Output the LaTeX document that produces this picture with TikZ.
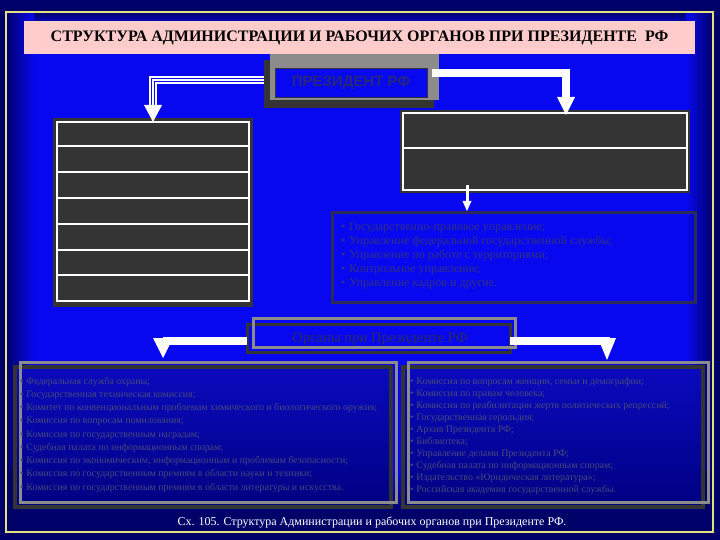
\documentclass[tikz,border=0pt]{standalone}
\usepackage{fontspec}
\setmainfont{Liberation Serif}
\newfontfamily\sansf{Liberation Sans}
\usetikzlibrary{calc}
\definecolor{navy}{RGB}{0,0,105}
\definecolor{bblue}{RGB}{8,8,240}
\definecolor{lboxt}{RGB}{10,10,190}
\definecolor{lboxb}{RGB}{0,0,130}
\definecolor{dk}{RGB}{52,52,52}
\definecolor{gr}{RGB}{140,140,140}
\definecolor{pinkb}{RGB}{255,204,204}
\definecolor{txtm}{RGB}{48,48,128}
\definecolor{txtl}{RGB}{72,72,125}
\definecolor{frm}{RGB}{225,225,130}
\definecolor{prest}{RGB}{38,38,125}
\begin{document}
\begin{tikzpicture}[x=1pt,y=-1pt,
  plain/.style={inner sep=0pt, outer sep=0pt},
  tabbox/.style={plain, draw=white, line width=1.5pt},
  listtxt/.style={plain, anchor=base west, font=\fontsize{9.9}{11}\selectfont, text=txtl},
  midtxt/.style={plain, anchor=base west, font=\fontsize{12}{13}\selectfont, text=txtm},
  wbar/.style={draw=white, line width=8pt},
  whead/.style={fill=white}]
\useasboundingbox (0,0) rectangle (720,540);
% background
\fill[navy] (0,0) rectangle (720,540);
\fill[bblue] (6,12) rectangle (713,532);
\shade[top color=navy, bottom color=bblue] (6,12) rectangle (713,28);
\shade[top color=bblue, bottom color=navy] (6,470) rectangle (713,512);
\shade[left color=navy, right color=bblue] (6,12) rectangle (34,470);
\shade[left color=bblue, right color=navy] (686,12) rectangle (713,470);
\fill[navy] (6,470) rectangle (20,532);
\fill[navy] (700,470) rectangle (713,532);
\fill[navy] (6,512) rectangle (713,532);
\draw[frm, line width=2pt] (6,12) rectangle (713,532);

% title
\node[plain, fill=pinkb, minimum width=671pt, minimum height=33pt] (title) at (359.5,37.5)
  {\fontsize{16}{18}\selectfont\bfseries СТРУКТУРА АДМИНИСТРАЦИИ И РАБОЧИХ ОРГАНОВ ПРИ ПРЕЗИДЕНТЕ~ РФ};

% president
\fill[dk] (264,60) rectangle (434,108);
\fill[gr] (270,54) rectangle (439,100);
\node[plain, fill=bblue, draw=dk, line width=0.8pt, minimum width=152pt, minimum height=29pt] (pres) at (351,82.5)
  {\sansf\bfseries\fontsize{15}{17}\selectfont\color{prest}ПРЕЗИДЕНТ РФ};

% left table
\fill[dk] (53,118) rectangle (253,307);
\node[tabbox, fill=dk, minimum width=192pt, minimum height=179pt] (tabL) at (153,211.5) {};
\foreach \yy in {146,172,198,224,250,275}
  \draw[white, line width=1.5pt] (tabL.west |- 0,\yy) -- (tabL.east |- 0,\yy);

% right table
\fill[dk] (400,110) rectangle (690,193);
\node[tabbox, fill=dk, minimum width=284pt, minimum height=77pt] (tabR) at (545,151.5) {};
\draw[white, line width=1.5pt] (tabR.west |- 0,148) -- (tabR.east |- 0,148);

% middle list
\node[plain, draw=dk!80!bblue, line width=3pt, minimum width=363pt, minimum height=89pt] (mlist) at (513.5,257.5) {};
\foreach \t [count=\i] in {{Государственно-правовое управление;},
  {Управление федеральной государственной службы;},
  {Управление по работе с территориями;},
  {Контрольное управление;},
  {Управление кадров и другие.}}
  \node[midtxt] (m\i) at (341,215.8+14.2*\i) {•\hspace{4pt}\t};

% organs box
\node[plain, draw=dk, line width=3pt, minimum width=263pt, minimum height=28pt] (org) at (378.5,338) {};
\draw[gr, line width=3pt] (253,318) rectangle (515,347);
\node[plain, text=dk!80!bblue] (orgt) at (380,339) {\fontsize{14.7}{16}\selectfont Органы при Президенте РФ};

% bottom list boxes
\shade[top color=lboxt, bottom color=lboxb, draw=dk, line width=4pt] (15,367) rectangle (391,507);
\node[plain, draw=gr, line width=3pt, minimum width=376pt, minimum height=140pt] (listL) at (208,432) {};
\shade[top color=lboxt, bottom color=lboxb, draw=dk, line width=4pt] (403,367) rectangle (703,507);
\node[plain, draw=gr, line width=3pt, minimum width=300pt, minimum height=140pt] (listR) at (558,432) {};

\foreach \t [count=\i] in {{Федеральная служба охраны;},
  {Государственная техническая комиссия;},
  {Комитет по конвенциональным проблемам химического и биологического оружия;},
  {Комиссия по вопросам помилования;},
  {Комиссия по государственным наградам;},
  {Судебная палата по информационным спорам;},
  {Комиссия по экономическим, информационным и проблемам безопасности;},
  {Комиссия по государственным премиям в области науки и техники;},
  {Комиссия по государственным премиям в области литературы и искусства.}}
  \node[listtxt] (l\i) at (20,370.95+13.25*\i) {•\hspace{3pt}\t};

\foreach \t [count=\i] in {{Комиссия по вопросам женщин, семьи и демографии;},
  {Комиссия по правам человека;},
  {Комиссия по реабилитации жертв политических репрессий;},
  {Государственная герольдия;},
  {Архив Президента РФ;},
  {Библиотека;},
  {Управление делами Президента РФ;},
  {Судебная палата по информационным спорам;},
  {Издательство «Юридическая литература»;},
  {Российская академия государственной службы.}}
  \node[listtxt] (r\i) at (410,372.2+12*\i) {•\hspace{3pt}\t};

% caption
\node[plain, text=white] (cap) at (372,522) {\fontsize{12}{13}\selectfont Сх. 105. Структура Администрации и рабочих органов при Президенте РФ.};

% arrow: president -> left table (triple line)
\path (pres.west) ++(-11,-2.5) coordinate (ls);
\coordinate (lt) at (tabL.north);
\coordinate (lc) at ($(lt)+(0,-16)$);
\draw[white, line width=8pt] (ls) -| (lc);
\draw[bblue, line width=4.6pt] (ls) -| ($(lc)+(0,1)$);
\draw[white, line width=1.4pt] (ls) -| ($(lc)+(0,1)$);
\fill[whead] ($(lt)+(-9,-17)$) -- ($(lt)+(9,-17)$) -- (lt) -- cycle;

% arrow: president -> right table
\path (pres.east) ++(5,-9.5) coordinate (rs);
\coordinate (rt) at ($(tabR.north)+(21,2)$);
\draw[wbar] (rs) -| ($(rt)+(0,-17)$);
\fill[whead] ($(rt)+(-9,-18)$) -- ($(rt)+(9,-18)$) -- (rt) -- cycle;

% arrow: right table -> middle list
\coordinate (st) at ($(mlist.north west)+(135,-2)$);
\draw[white, line width=3pt] ($(st)+(0,-26)$) -- ($(st)+(0,-9)$);
\fill[whead] ($(st)+(-4.5,-10)$) -- ($(st)+(4.5,-10)$) -- (st) -- cycle;

% arrows: organs -> lists
\coordinate (tl) at ($(listL.north west)+(143,-4)$);
\draw[wbar] ($(org.west)+(0,3)$) -- ($(tl)+(0,-17)$);
\fill[whead] ($(tl)+(-10,-20)$) -- ($(tl)+(10,-20)$) -- (tl) -- cycle;
\coordinate (tr) at ($(listR.north west)+(199,-2)$);
\draw[wbar] ($(org.east)+(0,3)$) -- ($(tr)+(3,-19)$);
\fill[whead] ($(tr)+(-9,-22)$) -- ($(tr)+(9,-22)$) -- (tr) -- cycle;
\end{tikzpicture}
\end{document}
